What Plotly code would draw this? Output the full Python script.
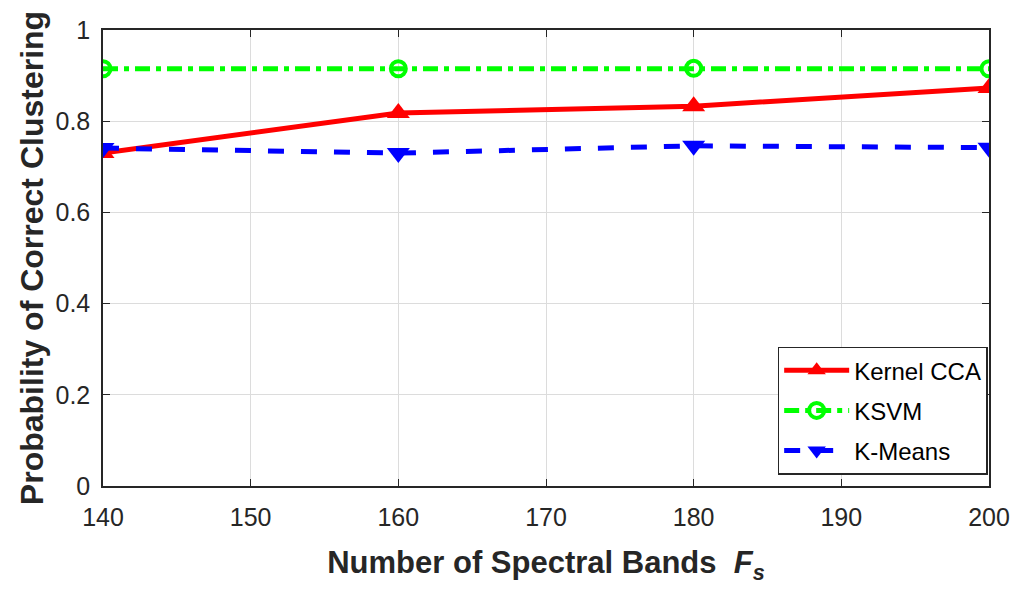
import plotly.graph_objects as go

bands = [140, 160, 180, 200]
kernel_cca = [0.730, 0.818, 0.833, 0.873]
ksvm = [0.915, 0.915, 0.916, 0.915]
kmeans = [0.741, 0.730, 0.746, 0.742]

FONT = "Liberation Sans, Arial"

fig = go.Figure()
fig.add_trace(go.Scatter(x=bands, y=kernel_cca, name="Kernel CCA", mode="lines+markers",
                         legendgroup="a",
                         line=dict(color="#ff0000", width=5),
                         marker=dict(symbol="triangle-up", size=20, color="#ff0000")))
fig.add_trace(go.Scatter(x=bands, y=ksvm, name="KSVM", mode="lines+markers",
                         legendgroup="b",
                         line=dict(color="#00ff00", width=5, dash="15px,6px,5px,6px"),
                         marker=dict(symbol="circle-open", size=15, color="#00ff00",
                                     line=dict(width=4, color="#00ff00"))))
fig.add_trace(go.Scatter(x=bands, y=kmeans, name="K-Means", mode="lines+markers",
                         legendgroup="c",
                         line=dict(color="#0000ff", width=5, dash="16px,17px"),
                         marker=dict(symbol="triangle-down", size=20, color="#0000ff")))

axis_common = dict(showline=True, linecolor="#262626", linewidth=1.5, mirror="ticks",
                   ticks="inside", ticklen=7, tickcolor="#262626", showgrid=True,
                   gridcolor="#dcdcdc", gridwidth=1, zeroline=False,
                   tickfont=dict(family=FONT, size=25, color="#262626"))

fig.update_xaxes(range=[140, 200], tickvals=[140, 150, 160, 170, 180, 190, 200],
                 ticklabelstandoff=8,
                 title=dict(text="<b>Number of Spectral Bands  <i>F</i><sub><i>s</i></sub></b>",
                            font=dict(family=FONT, size=31, color="#262626"),
                            standoff=22),
                 **axis_common)
fig.update_yaxes(range=[0, 1], tickvals=[0, 0.2, 0.4, 0.6, 0.8, 1],
                 ticktext=["0", "0.2", "0.4", "0.6", "0.8", "1"],
                 ticklabelstandoff=6,
                 title=dict(text="<b>Probability of Correct Clustering</b>",
                            font=dict(family=FONT, size=32, color="#262626"),
                            standoff=2),
                 **axis_common)

fig.update_layout(
    width=1022, height=596,
    margin=dict(l=103, r=28, t=30, b=110),
    plot_bgcolor="white", paper_bgcolor="white",
    showlegend=True,
    legend=dict(x=0.9985, y=0.025, xanchor="right", yanchor="bottom",
                bgcolor="white", bordercolor="#262626", borderwidth=1.5,
                font=dict(family=FONT, size=24, color="black"),
                itemwidth=65, tracegroupgap=6),
)

fig.write_html("out.html")
